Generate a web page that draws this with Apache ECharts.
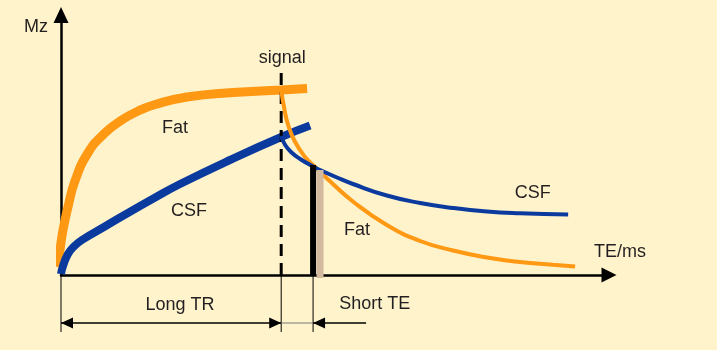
<!DOCTYPE html>
<html><head><meta charset="utf-8">
<script src="https://cdn.jsdelivr.net/npm/echarts@6/dist/echarts.min.js"></script>
<style>html,body{margin:0;padding:0;background:#FFF3CC;}#c{width:717px;height:350px;}</style>
</head><body><div id="c"></div>
<script>
// x: time (ms-like units), y: Mz signal (arbitrary units)
const fatT1 = [[-0.6,3.2],[-0.2,10],[0.4,18],[1.4,27.2],[2.8,37.6],[5.4,48.8],[8.8,56.8],[12.2,62],[15.5,65.6],[18.9,68.2],[25.3,71.2],[34.5,73],[44.2,74],[49.4,74.6]];
const csfT1 = [[0,0.4],[0.4,3.6],[1.4,8.4],[2.6,11.4],[4.2,14],[8.8,19.4],[12.2,23.4],[18.9,31],[23.9,36.4],[33.9,46],[44.2,55.2],[50.0,59.8]];
const fatT2 = [[44.2,74],[44.8,66.8],[45.6,60],[47.0,53.2],[49.0,47.2],[51.0,43.2],[53.4,38.6],[58.6,29.4],[65.4,20],[72.1,13.6],[78.7,9.8],[85.5,7],[92.1,5.2],[98.7,4.1],[103.2,3.4]];
const csfT2 = [[44.2,55.6],[45.0,52],[46.4,48.8],[48.0,46.4],[50.6,43.4],[52.0,42],[55.4,39],[58.6,36.4],[65.4,31.8],[72.1,28.8],[78.7,26.8],[85.5,25.4],[92.1,24.7],[101.8,24.2]];
const signalLine = [[44.2,0],[44.2,81.2]];
const teBar = [[50.6,0],[50.6,44]];
const teShade = [[52.0,-1.2],[52.0,42]];
const dimExtX = [0, 44.2, 50.6];
const longTR = [0, 44.2];
const shortTE = [44.2, 50.6];
const labels = [
  ['Mz', -5.0, 99.2],
  ['signal', 44.4, 86.6],
  ['Fat', 22.9, 58.6],
  ['CSF', 25.7, 25.4],
  ['CSF', 94.7, 32.6],
  ['Fat', 59.4, 18.0],
  ['TE/ms', 112.2, 9.2],
  ['Long TR', 23.9, -12.0],
  ['Short TE', 63.0, -11.6]
];

const ORANGE = '#FF9812', BLUE = '#0B3A9E', FONT = '18px "Liberation Sans", Arial, sans-serif';
const chart = echarts.init(document.getElementById('c'), null, {renderer:'canvas'});

function lineSeries(data, color, width, extra) {
  return Object.assign({
    type:'line', data, showSymbol:false, symbol:'none', smooth:0.5, clip:false, silent:true,
    animation:false, lineStyle:{color, width, cap:'butt'}
  }, extra || {});
}
function head(x, y, dir) {
  return {type:'polygon', shape:{points:[[x,y],[x+dir*12,y-5.5],[x+dir*12,y+5.5]]}, style:{fill:'#000'}};
}

chart.setOption({
  backgroundColor:'#FFF3CC',
  animation:false,
  grid:{left:61, right:108, top:15, bottom:75},
  xAxis:{type:'value', min:0, max:110, axisTick:{show:false}, axisLabel:{show:false}, splitLine:{show:false},
    axisLine:{show:true, symbol:['none','triangle'], symbolSize:[15,15], lineStyle:{color:'#000', width:2.5}}},
  yAxis:{type:'value', min:0, max:104, axisTick:{show:false}, axisLabel:{show:false}, splitLine:{show:false},
    axisLine:{show:true, symbol:['none','triangle'], symbolSize:[15,16], lineStyle:{color:'#000', width:2.5}}},
  series:[
    lineSeries(fatT1, ORANGE, 9),
    lineSeries(csfT1, BLUE, 8),
    lineSeries(signalLine, '#000', 3, {smooth:false, lineStyle:{color:'#000', width:3, type:[12,7]}}),
    lineSeries(fatT2, ORANGE, 4),
    lineSeries(csfT2, BLUE, 4),
    lineSeries(teShade, '#D3B99E', 7, {smooth:false}),
    lineSeries(teBar, '#000', 6, {smooth:false}),
    {
      type:'custom', coordinateSystem:'cartesian2d', data:[[0,0]], silent:true, clip:false,
      renderItem:function(params, api){
        const base = api.coord([0,0])[1];
        const yArrow = base + 48, yExtEnd = base + 57;
        const px = v => api.coord([v,0])[0];
        const ch = [];
        dimExtX.forEach(v => ch.push({type:'line', shape:{x1:px(v),y1:base+1,x2:px(v),y2:yExtEnd}, style:{stroke:'#000', lineWidth:1}}));
        const a = px(longTR[0]), b = px(longTR[1]);
        ch.push({type:'line', shape:{x1:a,y1:yArrow,x2:b,y2:yArrow}, style:{stroke:'#000', lineWidth:1.5}});
        ch.push(head(a, yArrow, 1), head(b, yArrow, -1));
        const c = px(shortTE[0]), d = px(shortTE[1]);
        ch.push({type:'line', shape:{x1:c,y1:yArrow,x2:d,y2:yArrow}, style:{stroke:'#777', lineWidth:1.2}});
        ch.push({type:'line', shape:{x1:d,y1:yArrow,x2:d+53,y2:yArrow}, style:{stroke:'#000', lineWidth:1.5}});
        ch.push(head(d, yArrow, 1));
        labels.forEach(l => {
          const p = api.coord([l[1], l[2]]);
          ch.push({type:'text', x:p[0], y:p[1], style:{text:l[0], fill:'#231F20', font:FONT, align:'center', verticalAlign:'middle'}});
        });
        return {type:'group', children:ch};
      }
    }
  ]
});
</script></body></html>
